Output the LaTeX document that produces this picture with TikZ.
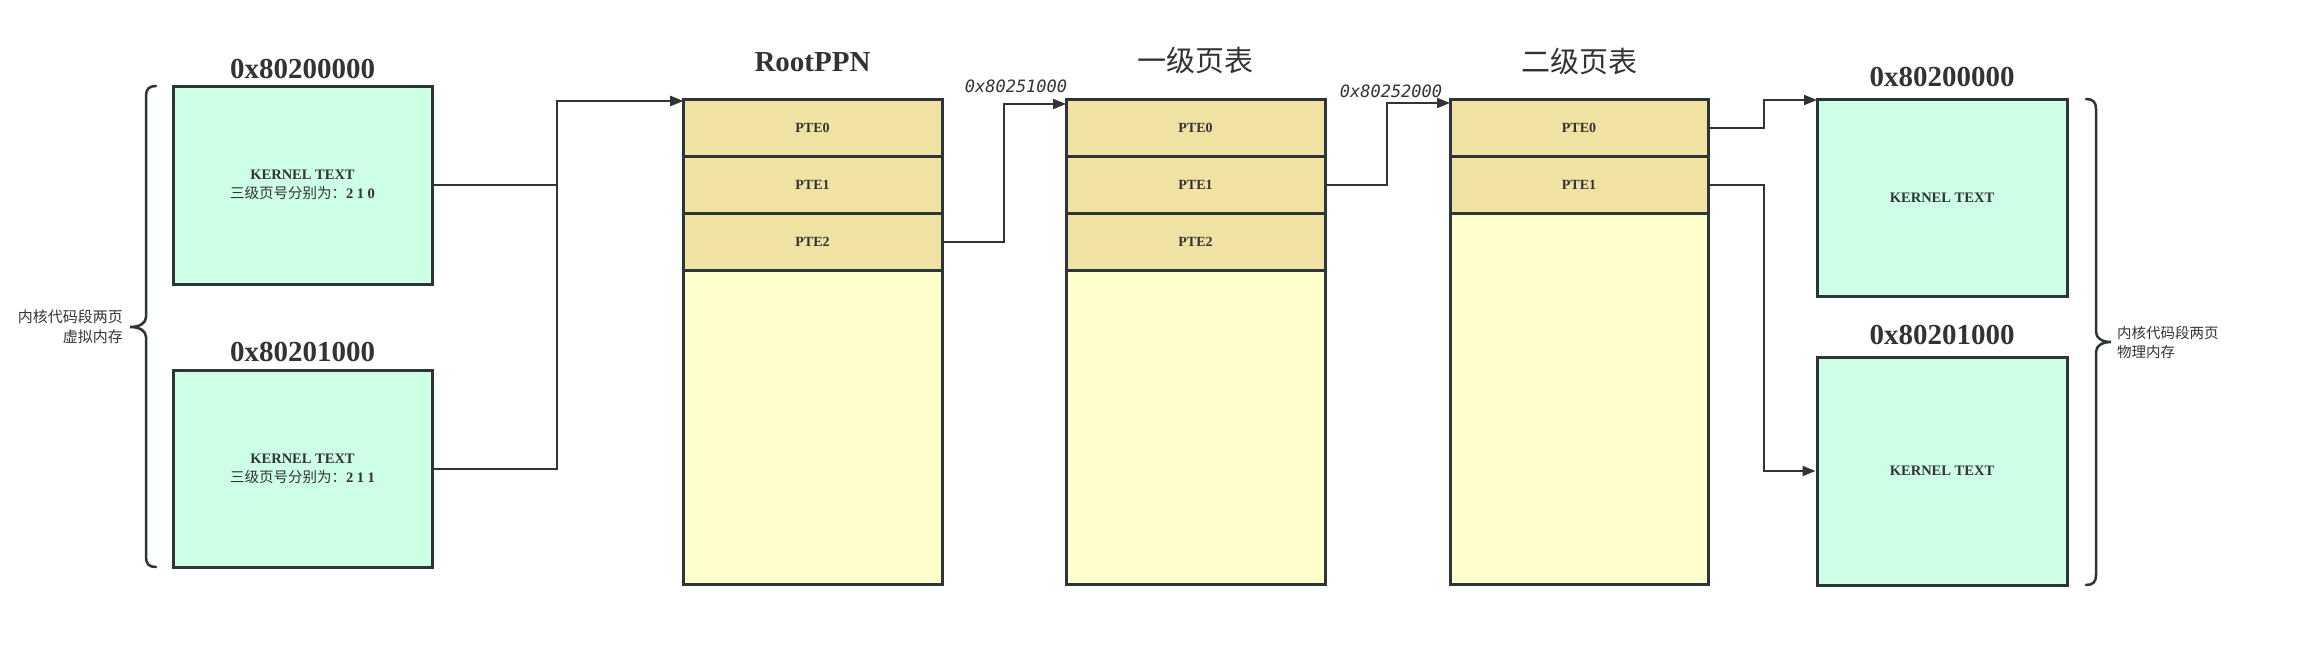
\documentclass[tikz,border=0pt]{standalone}
\usepackage{fontspec}
\setmainfont{Liberation Serif}
\setmonofont{DejaVu Sans Mono}
\newfontfamily\cjk{Noto Sans CJK SC}
\usetikzlibrary{arrows.meta,calc}
\definecolor{bd}{HTML}{2D3538}
\definecolor{ln}{HTML}{333333}
\definecolor{txt}{HTML}{333333}
\definecolor{grn}{HTML}{CCFFE6}
\definecolor{ptefill}{HTML}{F0E2A2}
\definecolor{restfill}{HTML}{FFFFCC}
\begin{document}
\begin{tikzpicture}[x=1pt,y=-1pt,
  greenbox/.style={draw=bd,fill=grn,line width=3pt,inner sep=0pt,align=center,text=txt,
    font=\fontsize{14.5}{19}\selectfont\bfseries},
  pterow/.style={draw=bd,fill=ptefill,line width=3pt,inner sep=0pt,minimum height=57pt,
    text=txt,font=\fontsize{14}{16}\selectfont\bfseries},
  restrow/.style={draw=bd,fill=restfill,line width=3pt,inner sep=0pt},
  bigtitle/.style={inner sep=0pt,text=txt,font=\fontsize{29}{34}\selectfont\bfseries},
  cjktitle/.style={inner sep=0pt,text=txt,font=\fontsize{29}{34}\selectfont\cjk},
  addr/.style={inner sep=0pt,text=txt,font=\fontsize{17}{20}\selectfont\ttfamily\itshape},
  sidelabel/.style={inner sep=0pt,text=txt,font=\fontsize{15}{20}\selectfont\cjk},
  conn/.style={draw=ln,line width=2pt},
  arr/.style={conn,-{Triangle[length=13pt,width=10pt]}},
  bracestyle/.style={draw=bd,line width=2.5pt,line cap=round}]
\useasboundingbox (0,0) rectangle (2322,646);

% virtual memory boxes
\node[greenbox,minimum width=259pt,minimum height=198pt] (vb1) at (302.5,185)
  {KERNEL TEXT\\{\mdseries\cjk 三级页号分别为：}2 1 0};
\node[greenbox,minimum width=259pt,minimum height=197pt] (vb2) at (302.5,468.5)
  {KERNEL TEXT\\{\mdseries\cjk 三级页号分别为：}2 1 1};
\node[bigtitle] (vt1) at (302.5,69) {0x80200000};
\node[bigtitle] (vt2) at (302.5,352) {0x80201000};

% left brace and label
\draw[bracestyle] (156,86) .. controls (149,86) and (146,89) .. (146,96) -- (146,317)
  .. controls (146,323) and (140,327) .. (130,327)
  .. controls (140,327) and (146,331) .. (146,337) -- (146,557)
  .. controls (146,564) and (149,567) .. (156,567);
\node[sidelabel,anchor=east,align=right] (vlab) at (123,327) {内核代码段两页\\虚拟内存};

% root table
\node[restrow,minimum width=259pt,minimum height=314pt] (rr) at (812.5,427) {};
\node[pterow,minimum width=259pt] (r0) at (812.5,127.5) {PTE0};
\node[pterow,minimum width=259pt] (r1) at (812.5,184.5) {PTE1};
\node[pterow,minimum width=259pt] (r2) at (812.5,241.5) {PTE2};
\node[bigtitle] (rt) at (812.5,62) {RootPPN};

% level-1 table
\node[restrow,minimum width=259pt,minimum height=314pt] (qr) at (1195.5,427) {};
\node[pterow,minimum width=259pt] (q0) at (1195.5,127.5) {PTE0};
\node[pterow,minimum width=259pt] (q1) at (1195.5,184.5) {PTE1};
\node[pterow,minimum width=259pt] (q2) at (1195.5,241.5) {PTE2};
\node[cjktitle] (qt) at (1195.5,61) {一级页表};

% level-2 table
\node[restrow,minimum width=258pt,minimum height=371pt] (sr) at (1579,398.5) {};
\node[pterow,minimum width=258pt] (s0) at (1579,127.5) {PTE0};
\node[pterow,minimum width=258pt] (s1) at (1579,184.5) {PTE1};
\node[cjktitle] (st) at (1579,62) {二级页表};

% physical boxes
\node[greenbox,minimum width=250pt,minimum height=197pt] (pb1) at (1942,197.5) {KERNEL TEXT};
\node[greenbox,minimum width=250pt,minimum height=228pt] (pb2) at (1942,471) {KERNEL TEXT};
\node[bigtitle] (pt1) at (1942,77) {0x80200000};
\node[bigtitle] (pt2) at (1942,335) {0x80201000};

% right brace and label
\draw[bracestyle] (2086,99) .. controls (2093,99) and (2096,102) .. (2096,109) -- (2096,332)
  .. controls (2096,338) and (2102,342) .. (2111,342)
  .. controls (2102,342) and (2096,346) .. (2096,352) -- (2096,575)
  .. controls (2096,582) and (2093,585) .. (2086,585);
\node[sidelabel,anchor=west,align=left,font=\fontsize{14.5}{19}\selectfont\cjk] (plab) at (2117,342.5) {内核代码段两页\\物理内存};

% address labels
\node[addr] (a1) at (1016,86) {0x80251000};
\node[addr] (a2) at (1391,91) {0x80252000};

% connector coordinates
\coordinate (jA) at (557,0);
\coordinate (jB) at (1004,0);
\coordinate (jC) at (1387,0);
\coordinate (jD) at (1764,0);
\coordinate (rin) at (683,101);
\coordinate (qin) at (1066,104);
\coordinate (sin) at (1450,103);
\coordinate (pin) at (1817,100);

% connectors
\draw[arr] (vb1.east) -- (vb1.east -| jA) |- (rin);
\draw[arr] (vb2.east) -- (vb2.east -| jA) |- (rin);
\draw[arr] (r2.east) -- (r2.east -| jB) |- (qin);
\draw[arr] (q1.east) -- (q1.east -| jC) |- (sin);
\draw[arr] (s0.east) -- (s0.east -| jD) |- (pin);
\draw[arr] (s1.east) -- (s1.east -| jD) |- (pb2.west);
\end{tikzpicture}
\end{document}
